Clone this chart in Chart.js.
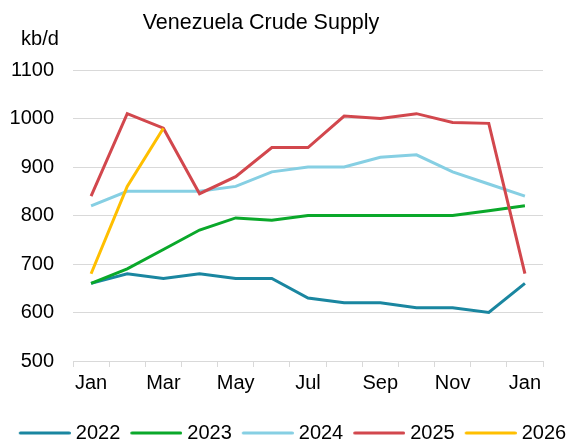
<!DOCTYPE html>
<html>
<head>
<meta charset="utf-8">
<script src="https://cdn.jsdelivr.net/npm/chart.js@4/dist/chart.umd.min.js"></script>
<style>
  html, body { margin: 0; padding: 0; background: #fff; }
  #wrap { position: relative; width: 569px; height: 439px; }
</style>
</head>
<body>
<div id="wrap"><canvas id="supply"></canvas></div>
<script>
// Monthly supply, kb/d (Jan through the following Jan)
const months = ['Jan', 'Feb', 'Mar', 'Apr', 'May', 'Jun', 'Jul', 'Aug', 'Sep', 'Oct', 'Nov', 'Dec', 'Jan'];
const yearLabels = ['2022', '2023', '2024', '2025', '2026'];
const y2022 = [660, 680, 670, 680, 670, 670, 630, 620, 620, 610, 610, 600, 660];
const y2023 = [660, 690, 730, 770, 795, 790, 800, 800, 800, 800, 800, 810, 820];
const y2024 = [820, 850, 850, 850, 860, 890, 900, 900, 920, 925, 890, 865, 840];
const y2025 = [840, 1010, 980, 845, 880, 940, 940, 1005, 1000, 1010, 992, 990, 680];
const y2026 = [680, 860, 980, null, null, null, null, null, null, null, null, null, null];
const yTicks = [500, 600, 700, 800, 900, 1000, 1100];

const seriesValues = [y2022, y2023, y2024, y2025, y2026];
const seriesColors = ['#1a86a0', '#0aa82a', '#86cfe3', '#d2474d', '#ffbf00'];
const FONT = '"Liberation Sans", Arial, sans-serif';

// little line swatches for the legend (line sits at the right, close to the text)
const makeSwatch = (color) => {
    const c = document.createElement('canvas');
    c.width = 57;
    c.height = 4;
    const g = c.getContext('2d');
    g.strokeStyle = color;
    g.lineWidth = 3;
    g.lineCap = 'round';
    g.beginPath();
    g.moveTo(6.5, 2);
    g.lineTo(55.5, 2);
    g.stroke();
    return c;
};
const swatches = seriesColors.map(makeSwatch);

const datasets = seriesValues.map((vals, i) => ({
    label: yearLabels[i],
    data: vals,
    borderColor: seriesColors[i],
    backgroundColor: seriesColors[i],
    borderWidth: 3,
    pointRadius: 0,
    tension: 0,
    spanGaps: false,
    yAxisID: 'y',
    order: seriesValues.length - i
}));

// title + unit label
const headerText = {
    id: 'headerText',
    afterDraw(chart) {
        const ctx = chart.ctx;
        ctx.save();
        ctx.fillStyle = '#000';
        ctx.textBaseline = 'middle';
        ctx.textAlign = 'center';
        ctx.font = '21.5px ' + FONT;
        ctx.fillText('Venezuela Crude Supply', 261, 23);
        ctx.font = '20px ' + FONT;
        ctx.fillText('kb/d', 40, 39);
        ctx.restore();
    }
};

// nudge the legend row down and to the right after layout
const legendNudge = {
    id: 'legendNudge',
    afterLayout(chart) {
        const lg = chart.legend;
        if (!lg) return;
        lg.left += 8;
        lg.right += 8;
        lg.top += 14;
        lg.bottom += 14;
    }
};

new Chart(document.getElementById('supply'), {
    type: 'line',
    data: { labels: months, datasets: datasets },
    plugins: [headerText, legendNudge],
    options: {
        responsive: true,
        maintainAspectRatio: false,
        animation: false,
        devicePixelRatio: 1,
        layout: { padding: { top: 70, left: 0, right: 0, bottom: 0 } },
        plugins: {
            title: { display: false },
            tooltip: { enabled: false },
            legend: {
                position: 'bottom',
                labels: {
                    color: '#000',
                    font: { family: FONT, size: 20 },
                    usePointStyle: true,
                    pointStyleWidth: 47,
                    padding: 10,
                    sort: (a, b) => a.datasetIndex - b.datasetIndex,
                    generateLabels(chart) {
                        const items = Chart.defaults.plugins.legend.labels.generateLabels(chart);
                        items.forEach(it => { it.pointStyle = swatches[it.datasetIndex]; });
                        return items;
                    }
                }
            }
        },
        scales: {
            x: {
                offset: true,
                grid: {
                    display: true,
                    offset: true,
                    drawOnChartArea: false,
                    drawTicks: true,
                    tickLength: 6,
                    color: '#d9d9d9'
                },
                border: { display: true, color: '#d9d9d9', width: 1 },
                ticks: {
                    autoSkip: false,
                    maxRotation: 0,
                    padding: 4,
                    color: '#000',
                    font: { family: FONT, size: 20 },
                    callback: (val, i) => (i % 2 === 0 ? months[i] : '')
                }
            },
            y: {
                min: yTicks[0],
                max: yTicks[yTicks.length - 1],
                afterBuildTicks: (axis) => { axis.ticks = yTicks.map(v => ({ value: v })); },
                afterFit: (axis) => { axis.width = 73; },
                grid: { color: '#d9d9d9', lineWidth: 1, drawTicks: false },
                border: { display: false },
                ticks: {
                    padding: 19,
                    color: '#000',
                    font: { family: FONT, size: 20 },
                    callback: (v) => String(v)
                }
            },
            // empty right-hand gutter
            yRight: {
                position: 'right',
                min: yTicks[0],
                max: yTicks[yTicks.length - 1],
                afterFit: (axis) => { axis.width = 26; },
                grid: { display: false, drawOnChartArea: false },
                border: { display: false },
                ticks: { display: false }
            }
        }
    }
});
</script>
</body>
</html>
